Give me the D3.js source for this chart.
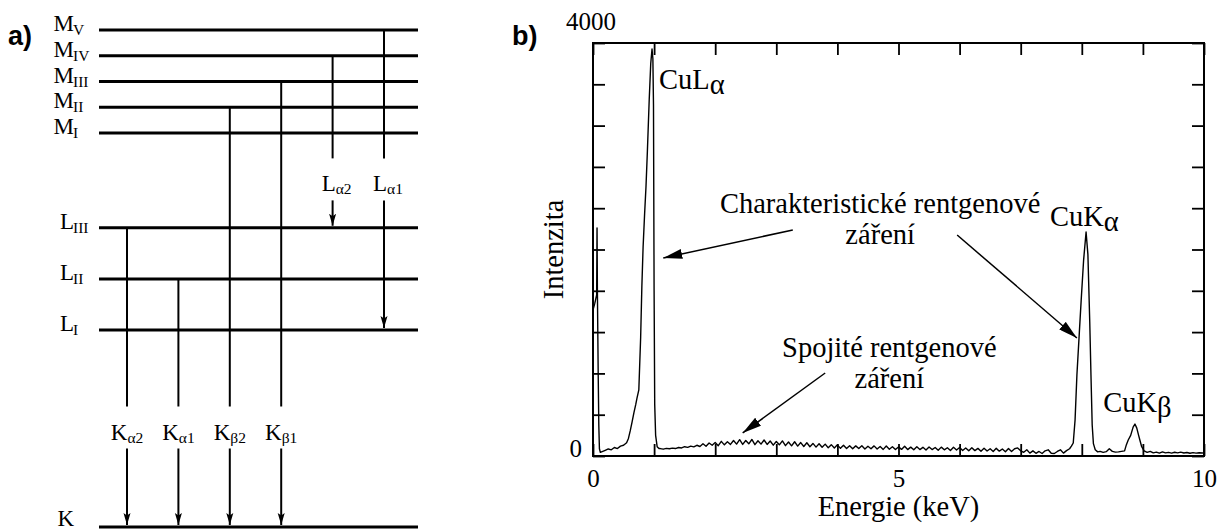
<!DOCTYPE html>
<html>
<head>
<meta charset="utf-8">
<script src="https://cdn.jsdelivr.net/npm/d3@7"></script>
<style>
  html, body { margin: 0; padding: 0; background: #fff; }
  svg { display: block; }
  text { font-family: "Liberation Serif", "DejaVu Serif", "Noto Serif", serif; fill: #000; }
  text.panel { font-family: "Liberation Sans", "DejaVu Sans", Arial, sans-serif; font-weight: bold; }
</style>
</head>
<body>
<svg id="fig" width="1232" height="529"></svg>
<script>
// ---------- a) energy level scheme ----------
// level heights in schematic units (K shell at the bottom)
const levelIds      = ["MV", "MIV", "MIII", "MII", "MI", "LIII", "LII", "LI", "K"];
const levelLetters  = ["M", "M", "M", "M", "M", "L", "L", "L", "K"];
const levelSubs     = ["V", "IV", "III", "II", "I", "III", "II", "I", ""];
const levelShells   = ["M", "M", "M", "M", "M", "L", "L", "L", "K"];
const levelHeights  = [19.3, 18.3, 17.3, 16.3, 15.3, 11.62, 9.63, 7.65, 0];

// emission lines: initial level -> final level
const lineIds     = ["Ka2", "Ka1", "Kb2", "Kb1", "La2", "La1"];
const lineLetters = ["K", "K", "K", "K", "L", "L"];
const lineSubs    = ["α2", "α1", "β2", "β1", "α2", "α1"];
const lineFrom    = ["LIII", "LII", "MII", "MIII", "MIV", "MV"];
const lineTo      = ["K", "K", "K", "K", "LIII", "LI"];

// ---------- b) EDS spectrum of copper ----------
const xTickLabels = [0, 5, 10];
const yTickLabels = [0, 4000];

// spectrum as [energy keV, counts]
const lowEnergyEdge = [
  [0.00, 1414], [0.03, 1480], [0.06, 1560], [0.066, 2208], [0.072, 1600],
  [0.085, 800], [0.095, 300], [0.105, 70], [0.12, 35], [0.16, 45],
  [0.20, 55], [0.25, 68], [0.30, 60], [0.35, 82], [0.40, 72], [0.45, 96],
  [0.50, 104], [0.55, 128]
];
const peakCuLa = [
  [0.58, 170], [0.61, 245], [0.64, 330], [0.67, 420], [0.70, 500], [0.72, 560],
  [0.75, 640], [0.78, 1150], [0.80, 1650], [0.82, 2024], [0.845, 2350],
  [0.867, 2605], [0.89, 2950], [0.92, 3450], [0.945, 3800], [0.966, 3942],
  [0.98, 3850], [0.99, 3400], [1.00, 1600], [1.01, 500], [1.025, 200],
  [1.05, 90], [1.08, 72]
];
const continuum = [
  [1.10, 72], [1.15, 66], [1.20, 74], [1.25, 70], [1.30, 76], [1.35, 72],
  [1.40, 82], [1.45, 78], [1.50, 90], [1.55, 84], [1.60, 96], [1.65, 88],
  [1.70, 104], [1.75, 92], [1.80, 118], [1.85, 95], [1.90, 126], [1.95, 104],
  [2.00, 130], [2.05, 100], [2.10, 142], [2.15, 108], [2.20, 138], [2.25, 112],
  [2.30, 150], [2.35, 115], [2.40, 158], [2.45, 112], [2.50, 150], [2.55, 118],
  [2.60, 160], [2.65, 110], [2.70, 148], [2.75, 115], [2.80, 155], [2.85, 112],
  [2.90, 145], [2.95, 105], [3.00, 140], [3.05, 108], [3.10, 146], [3.15, 100],
  [3.20, 136], [3.25, 98], [3.30, 138], [3.35, 96], [3.40, 130], [3.45, 92],
  [3.50, 128], [3.55, 90], [3.60, 122], [3.65, 86], [3.70, 118], [3.75, 84],
  [3.80, 115], [3.85, 80], [3.90, 110], [3.95, 78], [4.00, 108], [4.05, 74],
  [4.10, 104], [4.15, 72], [4.20, 100], [4.25, 70], [4.30, 98], [4.35, 72],
  [4.40, 100], [4.45, 68], [4.50, 94], [4.55, 70], [4.60, 98], [4.65, 68],
  [4.70, 92], [4.75, 64], [4.80, 96], [4.85, 66], [4.90, 90], [4.95, 62],
  [5.00, 88], [5.05, 64], [5.10, 94], [5.15, 62], [5.20, 86], [5.25, 60],
  [5.30, 90], [5.35, 62], [5.40, 84], [5.45, 58], [5.50, 88], [5.55, 62],
  [5.60, 82], [5.65, 56], [5.70, 86], [5.75, 60], [5.80, 80], [5.85, 54],
  [5.90, 84], [5.95, 58], [6.00, 82], [6.05, 54], [6.10, 78], [6.15, 50],
  [6.20, 80], [6.25, 52], [6.30, 74], [6.35, 47], [6.40, 76], [6.45, 48],
  [6.50, 70], [6.55, 44], [6.60, 74], [6.65, 47], [6.70, 68], [6.75, 42],
  [6.80, 72], [6.85, 44], [6.90, 70], [6.95, 78], [7.00, 50], [7.05, 36],
  [7.10, 60], [7.15, 28], [7.20, 50], [7.25, 26], [7.30, 44], [7.35, 24],
  [7.40, 50], [7.45, 60], [7.50, 26], [7.55, 24], [7.60, 44], [7.65, 60],
  [7.70, 28], [7.75, 52], [7.80, 70]
];
const peakCuKa = [
  [7.83, 95], [7.86, 126], [7.89, 350], [7.92, 785], [7.96, 1200], [7.99, 1510],
  [8.03, 1900], [8.07, 2170], [8.10, 1950], [8.13, 1300], [8.15, 785],
  [8.17, 300], [8.19, 120], [8.22, 60], [8.26, 40]
];
const peakCuKb = [
  [8.30, 45], [8.35, 35], [8.40, 42], [8.45, 70], [8.50, 45], [8.55, 38],
  [8.60, 40], [8.65, 45], [8.70, 50], [8.73, 110], [8.76, 155], [8.80, 200],
  [8.84, 280], [8.87, 310], [8.90, 270], [8.93, 200], [8.95, 155], [8.98, 90],
  [9.02, 50], [9.07, 35], [9.12, 45], [9.17, 30], [9.22, 38], [9.27, 28],
  [9.32, 40], [9.37, 30], [9.42, 35], [9.47, 28], [9.52, 36], [9.57, 30],
  [9.62, 38], [9.67, 29], [9.72, 34], [9.77, 27], [9.82, 33], [9.87, 28],
  [9.92, 32], [9.97, 29], [10.0, 30]
];

// annotation text and arrows, in data coordinates [keV, counts]
const charLabel   = { lines: ["Charakteristické rentgenové", "záření"], at: [4.70, 2350] };
const charArrows  = [ { from: [3.27, 2189], to: [1.15, 1918] },
                      { from: [5.96, 2140], to: [7.92, 1143] } ];
const contLabel   = { lines: ["Spojité rentgenové", "záření"], at: [4.85, 960] };
const contArrows  = [ { from: [3.80, 804], to: [2.45, 223] } ];
const peakLabels  = [
  { main: "CuL", sub: "α", at: [1.08, 3555] },
  { main: "CuK", sub: "α", at: [7.48, 2227] },
  { main: "CuK", sub: "β", at: [8.35, 426] }
];

const TXT = 28.5;   // annotation / title font size

const svg = d3.select("#fig");
const defs = svg.append("defs");
defs.append("marker")
  .attr("id", "headSmall").attr("viewBox", "0 -4 12 8")
  .attr("markerUnits", "userSpaceOnUse").attr("markerWidth", 12).attr("markerHeight", 8)
  .attr("refX", 12).attr("refY", 0).attr("orient", "auto")
  .append("path").attr("d", "M0,-3.5L12,0L0,3.5L2.5,0Z").attr("fill", "#000");
defs.append("marker")
  .attr("id", "headLarge").attr("viewBox", "0 -5 19 10")
  .attr("markerUnits", "userSpaceOnUse").attr("markerWidth", 19).attr("markerHeight", 10)
  .attr("refX", 19).attr("refY", 0).attr("orient", "auto")
  .append("path").attr("d", "M0,-5L19,0L0,5Z").attr("fill", "#000");

// ===== panel a =====
const gA = svg.append("g");
const ly = d3.scaleLinear().domain([0, d3.max(levelHeights)]).range([527, 30]);
const lx = d3.scalePoint().domain(lineIds).range([127, 384]);
const levelY = id => ly(levelHeights[levelIds.indexOf(id)]);

gA.append("text").attr("class", "panel").attr("x", 8).attr("y", 45)
  .attr("font-size", 27).text("a)");

// level lines
gA.selectAll("line.level").data(levelIds).join("line")
  .attr("class", "level")
  .attr("x1", 99).attr("x2", 418)
  .attr("y1", d => levelY(d)).attr("y2", d => levelY(d))
  .attr("stroke", "#000").attr("stroke-width", 3);

// level labels: main letter right-aligned, roman numeral as subscript
levelIds.forEach((id, i) => {
  const yy = Math.min(levelY(id) + 1, 526);
  gA.append("text").attr("x", 74).attr("y", yy).attr("text-anchor", "end")
    .attr("font-size", 23).text(levelLetters[i]);
  if (levelSubs[i]) {
    gA.append("text").attr("x", 73).attr("y", yy + 4)
      .attr("font-size", 15.5).text(levelSubs[i]);
  }
});

lineIds.forEach((id, i) => {
  const xx = lx(id);
  const y0 = levelY(lineFrom[i]);
  const y1 = levelY(lineTo[i]);
  // label sits in the gap between the final shell and the level just above it
  const lowerShell = levelShells[levelIds.indexOf(lineTo[i])];
  const lowerTop = d3.min(levelIds.filter((d, k) => levelShells[k] === lowerShell).map(levelY));
  const upperLow = d3.max(levelIds.map(levelY).filter(v => v < lowerTop));
  const base = (upperLow + lowerTop) / 2 + 11;

  gA.append("line").attr("x1", xx).attr("x2", xx).attr("y1", y0).attr("y2", base - 33)
    .attr("stroke", "#000").attr("stroke-width", 2);
  gA.append("line").attr("x1", xx).attr("x2", xx).attr("y1", base + 9).attr("y2", y1 - 2)
    .attr("stroke", "#000").attr("stroke-width", 2)
    .attr("marker-end", "url(#headSmall)");

  const t = gA.append("text").attr("x", xx + (lineLetters[i] === "L" ? 4 : 0)).attr("y", base)
    .attr("text-anchor", "middle");
  t.append("tspan").attr("font-size", 23).text(lineLetters[i]);
  t.append("tspan").attr("font-size", 15.5).attr("dy", 3).text(lineSubs[i]);
});

// ===== panel b =====
const x = d3.scaleLinear().domain([0, 10]).range([593, 1204]);
const y = d3.scaleLinear().domain([0, 4000]).range([456, 43]);
const gB = svg.append("g");

gB.append("text").attr("class", "panel").attr("x", 512).attr("y", 45)
  .attr("font-size", 27).text("b)");

const xTicks = d3.range(0, 11, 1);
const yTicks = d3.range(0, 4001, 400);

function styleAxis(g) {
  g.select(".domain").remove();
  g.attr("font-family", null).attr("font-size", 25);
  g.selectAll(".tick line").attr("stroke-width", 1.8);
}

gB.append("g").attr("transform", `translate(0,${y(0)})`)
  .call(d3.axisBottom(x).tickValues(xTicks).tickSize(-12).tickPadding(13)
    .tickFormat(d => xTickLabels.includes(d) ? d : ""))
  .call(styleAxis);
gB.append("g").attr("transform", `translate(0,${y(4000)})`)
  .call(d3.axisTop(x).tickValues(xTicks).tickSize(-12).tickFormat(""))
  .call(styleAxis);
const gLeft = gB.append("g").attr("transform", `translate(${x(0)},0)`)
  .call(d3.axisLeft(y).tickValues(yTicks).tickSize(-12).tickPadding(11)
    .tickFormat(d => d === yTickLabels[0] ? d : ""))
  .call(styleAxis);
gLeft.selectAll("text").attr("dy", "0");
gB.append("g").attr("transform", `translate(${x(10)},0)`)
  .call(d3.axisRight(y).tickValues(yTicks).tickSize(-12).tickFormat(""))
  .call(styleAxis);

gB.append("text").attr("x", x(0) - 2).attr("y", y(yTickLabels[1]) - 13)
  .attr("text-anchor", "middle").attr("font-size", 25).text(yTickLabels[1]);

// frame
gB.append("rect").attr("x", x(0)).attr("y", y(4000))
  .attr("width", x(10) - x(0)).attr("height", y(0) - y(4000))
  .attr("fill", "none").attr("stroke", "#000").attr("stroke-width", 2);

// spectrum
const spectrum = [].concat(lowEnergyEdge, peakCuLa, continuum, peakCuKa, peakCuKb);
gB.append("path").datum(spectrum)
  .attr("d", d3.line().x(d => x(d[0])).y(d => y(d[1])))
  .attr("fill", "none").attr("stroke", "#000").attr("stroke-width", 1.4)
  .attr("stroke-linejoin", "round");

// axis titles
gB.append("text").attr("x", (x(0) + x(10)) / 2).attr("y", 516)
  .attr("text-anchor", "middle").attr("font-size", TXT).text("Energie (keV)");
gB.append("text").attr("transform", `translate(563,${(y(0) + y(4000)) / 2}) rotate(-90)`)
  .attr("text-anchor", "middle").attr("font-size", TXT).text("Intenzita");

// peak labels
peakLabels.forEach(p => {
  const t = gB.append("text").attr("x", x(p.at[0])).attr("y", y(p.at[1])).attr("font-size", TXT);
  t.append("tspan").text(p.main);
  t.append("tspan").attr("dy", 5).text(p.sub);
});

// annotations
function annotate(lbl, arrows) {
  lbl.lines.forEach((s, i) => {
    gB.append("text").attr("x", x(lbl.at[0])).attr("y", y(lbl.at[1]) + i * 31)
      .attr("text-anchor", "middle").attr("font-size", TXT).text(s);
  });
  arrows.forEach(a => {
    gB.append("line")
      .attr("x1", x(a.from[0])).attr("y1", y(a.from[1]))
      .attr("x2", x(a.to[0])).attr("y2", y(a.to[1]))
      .attr("stroke", "#000").attr("stroke-width", 1.5)
      .attr("marker-end", "url(#headLarge)");
  });
}
annotate(charLabel, charArrows);
annotate(contLabel, contArrows);
</script>
</body>
</html>
